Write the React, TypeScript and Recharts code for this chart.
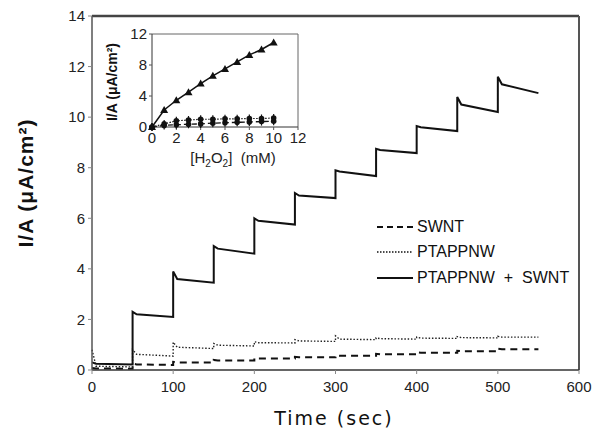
import React from 'react';
import { LineChart, Line, XAxis, YAxis, ReferenceLine } from 'recharts';

// step start times (sec); each H2O2 addition lasts 50 s
const stepTimes = [0, 50, 100, 150, 200, 250, 300, 350, 400, 450, 500];

// PTAPPNW + SWNT: value right after step, after settling, before next step
const hybridPeak = [0.3, 2.3, 3.9, 4.9, 6.0, 7.0, 7.9, 8.75, 9.65, 10.8, 11.6];
const hybridSettle = [0.25, 2.2, 3.6, 4.8, 5.9, 6.9, 7.85, 8.7, 9.6, 10.5, 11.3];
const hybridEnd = [0.22, 2.1, 3.45, 4.6, 5.75, 6.8, 7.67, 8.58, 9.45, 10.2, 10.95];

const ptappnwPeak = [0.8, 0.8, 1.1, 1.05, 1.12, 1.2, 1.35, 1.27, 1.3, 1.32, 1.33];
const ptappnwSettle = [0.15, 0.62, 0.9, 0.98, 1.08, 1.15, 1.22, 1.24, 1.26, 1.28, 1.3];
const ptappnwEnd = [0.12, 0.55, 0.85, 0.95, 1.07, 1.13, 1.2, 1.22, 1.25, 1.27, 1.3];

const swntPeak = [0.08, 0.25, 0.32, 0.4, 0.47, 0.52, 0.58, 0.64, 0.7, 0.76, 0.84];
const swntSettle = [0.06, 0.22, 0.3, 0.38, 0.45, 0.5, 0.56, 0.62, 0.68, 0.74, 0.82];
const swntEnd = [0.05, 0.2, 0.3, 0.38, 0.45, 0.5, 0.56, 0.62, 0.68, 0.74, 0.82];

const xTicks = [0, 100, 200, 300, 400, 500, 600];
const yTicks = [0, 2, 4, 6, 8, 10, 12, 14];

// inset: calibration vs [H2O2]
const conc = [0, 1, 2, 3, 4, 5, 6, 7, 8, 9, 10];
const insetHybrid = [0, 2.2, 3.45, 4.5, 5.6, 6.6, 7.5, 8.4, 9.3, 10.0, 10.9];
const insetPtappnw = [0, 0.4, 0.8, 0.9, 1.0, 1.0, 1.05, 1.05, 1.1, 1.1, 1.15];
const insetSwnt = [0, 0.2, 0.3, 0.35, 0.4, 0.5, 0.55, 0.6, 0.65, 0.7, 0.75];
const insetXTicks = [0, 2, 4, 6, 8, 10, 12];
const insetYTicks = [0, 4, 8, 12];

const buildSteps = (peak: number[], settle: number[], end: number[]) =>
  stepTimes.flatMap((t, i) => [
    { t, v: peak[i] },
    { t: t + 5, v: settle[i] },
    { t: t + 50, v: end[i] },
  ]);

const toPoints = (vals: number[]) => conc.map((c, i) => ({ c, v: vals[i] }));

const hybridData = buildSteps(hybridPeak, hybridSettle, hybridEnd);
const ptappnwData = buildSteps(ptappnwPeak, ptappnwSettle, ptappnwEnd);
const swntData = buildSteps(swntPeak, swntSettle, swntEnd);

const FONT = '"Liberation Sans", Arial, sans-serif';
const tickStyle = { fontSize: 15, fill: '#222', fontFamily: FONT };

const legendItems = [
  { name: 'SWNT', dash: '6 4', width: 2 },
  { name: 'PTAPPNW', dash: '1.5 1.5', width: 1.3 },
  { name: 'PTAPPNW  +  SWNT', dash: undefined, width: 2 },
];

const LegendBox = () => (
  <div style={{ position: 'absolute', left: 377, top: 214, fontFamily: FONT, fontSize: 16, color: '#111' }}>
    {legendItems.map((it) => (
      <div key={it.name} style={{ display: 'flex', alignItems: 'center', height: 25.5 }}>
        <svg width={40} height={10}>
          <line x1={0} y1={5} x2={36} y2={5} stroke="#111" strokeWidth={it.width} strokeDasharray={it.dash} />
        </svg>
        <span style={{ whiteSpace: 'pre' }}>{it.name}</span>
      </div>
    ))}
  </div>
);

const Triangle = (props: any) => {
  const { cx, cy } = props;
  if (cx == null || cy == null) return null;
  return <path d={`M${cx},${cy - 4} L${cx + 4},${cy + 3} L${cx - 4},${cy + 3} Z`} fill="#111" />;
};

const Dot = (props: any) => {
  const { cx, cy } = props;
  if (cx == null || cy == null) return null;
  return (
    <g>
      <line x1={cx} y1={cy - 4} x2={cx} y2={cy + 4} stroke="#111" strokeWidth={1.2} />
      <circle cx={cx} cy={cy} r={2.8} fill="#111" />
    </g>
  );
};

export default function App() {
  return (
    <div style={{ position: 'relative', width: 596, height: 432, background: '#fff', fontFamily: FONT }}>
      <style>{`body{margin:0}`}</style>
      <LineChart width={596} height={432} margin={{ top: 16, right: 17, left: 0, bottom: 32 }}>
        <XAxis
          type="number"
          dataKey="t"
          domain={[0, 600]}
          ticks={xTicks}
          height={30}
          tick={tickStyle}
          tickSize={4}
          tickMargin={7}
          axisLine={{ stroke: '#333', strokeWidth: 1.5 }}
          tickLine={{ stroke: '#888' }}
          allowDuplicatedCategory={false}
        />
        <YAxis
          type="number"
          domain={[0, 14]}
          ticks={yTicks}
          width={92}
          tick={tickStyle}
          tickSize={4}
          tickMargin={3}
          axisLine={{ stroke: '#555', strokeWidth: 1.5 }}
          tickLine={{ stroke: '#888' }}
        />
        <ReferenceLine y={14} stroke="#444" strokeWidth={2.5} />
        <ReferenceLine x={600} stroke="#555" strokeWidth={2} />
        <Line data={swntData} dataKey="v" type="linear" stroke="#111" strokeWidth={2} strokeDasharray="7 5" dot={false} isAnimationActive={false} />
        <Line data={ptappnwData} dataKey="v" type="linear" stroke="#222" strokeWidth={1.4} strokeDasharray="1.5 1.8" dot={false} isAnimationActive={false} />
        <Line data={hybridData} dataKey="v" type="linear" stroke="#111" strokeWidth={2} dot={false} isAnimationActive={false} />
      </LineChart>
      <LegendBox />

      <div
        style={{
          position: 'absolute', left: 26, top: 183, transform: 'translate(-50%, -50%) rotate(-90deg)',
          fontSize: 21, fontWeight: 'bold', whiteSpace: 'nowrap', letterSpacing: 1, color: '#111',
        }}
      >
        I/A (μA/cm²)
      </div>
      <div
        style={{
          position: 'absolute', left: 334, top: 418, transform: 'translate(-50%, -50%)',
          fontSize: 19, fontFamily: '"DejaVu Sans", sans-serif', whiteSpace: 'nowrap', letterSpacing: 2, color: '#111',
        }}
      >
        Time (sec)
      </div>

      <div style={{ position: 'absolute', left: 96, top: 24 }}>
        <LineChart width={210} height={150} margin={{ top: 10, right: 8, left: 30, bottom: 27 }}>
          <XAxis
            type="number"
            dataKey="c"
            domain={[0, 12]}
            ticks={insetXTicks}
            height={20}
            tick={tickStyle}
            tickSize={3}
            tickMargin={2}
            axisLine={{ stroke: '#333' }}
            tickLine={{ stroke: '#555' }}
          />
          <YAxis
            type="number"
            domain={[0, 12]}
            ticks={insetYTicks}
            width={26}
            tick={tickStyle}
            tickSize={3}
            tickMargin={2}
            axisLine={{ stroke: '#333' }}
            tickLine={{ stroke: '#555' }}
          />
          <ReferenceLine y={12} stroke="#666" />
          <ReferenceLine x={12} stroke="#666" />
          <Line data={toPoints(insetSwnt)} dataKey="v" type="linear" stroke="#111" strokeWidth={1.3} strokeDasharray="5 3" dot={<Dot />} isAnimationActive={false} />
          <Line data={toPoints(insetPtappnw)} dataKey="v" type="linear" stroke="#111" strokeWidth={1.2} strokeDasharray="1.5 1.5" dot={<Dot />} isAnimationActive={false} />
          <Line data={toPoints(insetHybrid)} dataKey="v" type="linear" stroke="#111" strokeWidth={1.5} dot={<Triangle />} isAnimationActive={false} />
        </LineChart>
      </div>
      <div
        style={{
          position: 'absolute', left: 112, top: 82, transform: 'translate(-50%, -50%) rotate(-90deg)',
          fontSize: 14, fontWeight: 'bold', whiteSpace: 'nowrap', color: '#111',
        }}
      >
        I/A (μA/cm²)
      </div>
      <div
        style={{
          position: 'absolute', left: 233, top: 159, transform: 'translate(-50%, -50%)',
          fontSize: 15, whiteSpace: 'nowrap', color: '#222',
        }}
      >
        [H<sub style={{ fontSize: 10 }}>2</sub>O<sub style={{ fontSize: 10 }}>2</sub>]&nbsp;&nbsp;(mM)
      </div>
    </div>
  );
}
